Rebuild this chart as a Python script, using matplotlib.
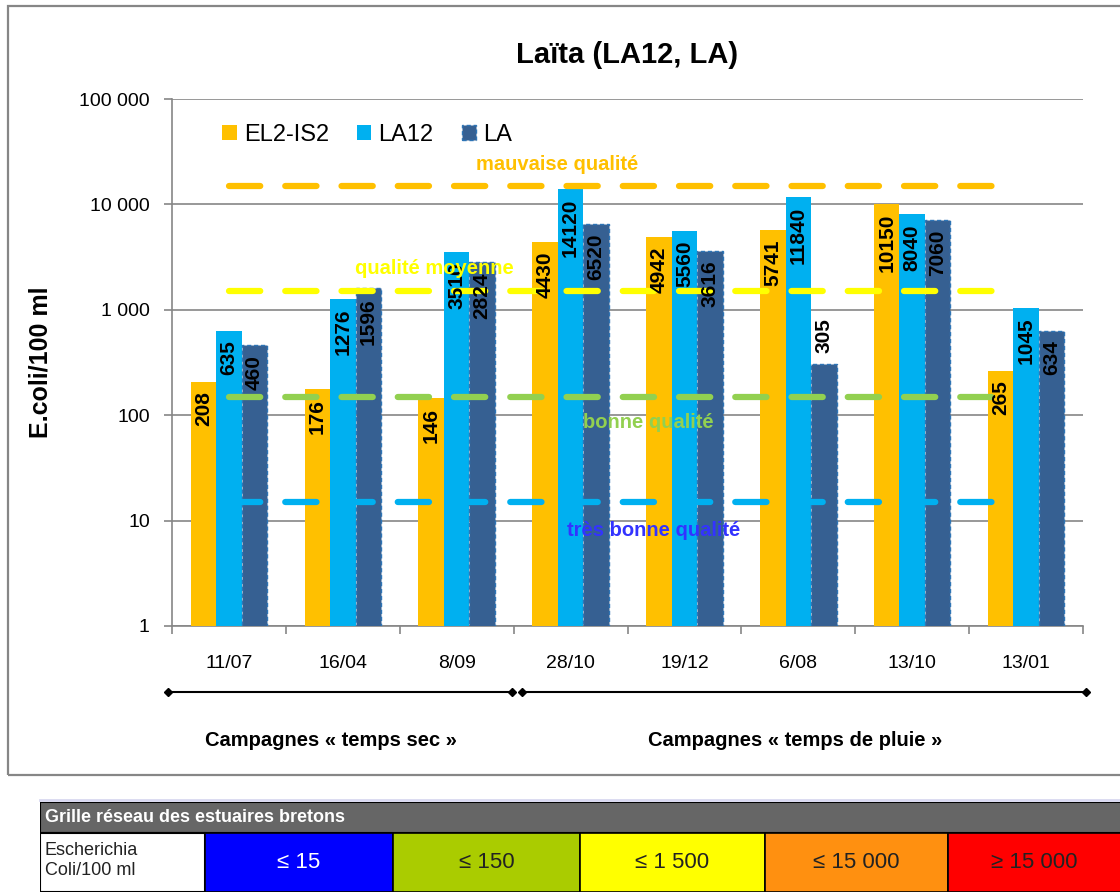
import numpy as np
import matplotlib.pyplot as plt
from matplotlib.patches import Rectangle
from matplotlib.lines import Line2D
from matplotlib.ticker import FixedLocator, FuncFormatter, NullLocator

plt.rcParams['font.family'] = ['Liberation Sans', 'DejaVu Sans']

# ---------------------------------------------------------------- data
dates = ["11/07", "16/04", "8/09", "28/10", "19/12", "6/08", "13/10", "13/01"]
el2_is2 = [208, 176, 146, 4430, 4942, 5741, 10150, 265]
la12 = [635, 1276, 3510, 14120, 5560, 11840, 8040, 1045]
la = [460, 1596, 2824, 6520, 3616, 305, 7060, 634]
series_names = ["EL2-IS2", "LA12", "LA"]

thresholds = [15000, 1500, 150, 15]
threshold_names = ["mauvaise qualité", "qualité moyenne", "bonne qualité", "très bonne qualité"]

campaigns = ["Campagnes « temps sec »", "Campagnes « temps de pluie »"]

grid_title = "Grille réseau des estuaires bretons"
grid_row_label = "Escherichia\nColi/100 ml"
grid_classes = ["≤ 15", "≤ 150", "≤ 1 500", "≤ 15 000", "≥ 15 000"]

# ---------------------------------------------------------------- style
c_el2, c_la12, c_la = "#FFC000", "#00B0F0", "#366092"
thr_colors = ["#FFC000", "#FFFF00", "#92D050", "#00B0F0"]
thr_text_colors = ["#FFC000", "#FFFF00", "#92D050", "#3333FF"]
thr_text_pos = [(2.88, 165), (1.80, 268), (3.68, 423), (3.73, 531)]  # (x data, y px)
grid_colors = ["#0000FF", "#AACC00", "#FFFF00", "#FF9010", "#FF0000"]
grid_text_colors = ["white", "#222222", "#222222", "#222222", "#222222"]

W, H = 1120, 892
fig = plt.figure(figsize=(W / 100, H / 100), dpi=100)


def fx(px):
    return px / W


def fy(py):
    return 1 - py / H


# chart area frame
fig.add_artist(Rectangle((fx(8), fy(775)), fx(1130 - 8), fy(6) - fy(775),
                         transform=fig.transFigure, fill=False,
                         edgecolor="#868686", lw=1.6))

ax = fig.add_axes([fx(172), fy(626), fx(1083 - 172), fy(99) - fy(626)])
ax.set_yscale("log")
ax.set_ylim(1, 100000)
n = len(dates)
ax.set_xlim(-0.5, n - 0.5)
x = np.arange(n)
bw = 0.224

b1 = ax.bar(x - bw, el2_is2, bw, color=c_el2, zorder=3, label=series_names[0])
b2 = ax.bar(x, la12, bw, color=c_la12, zorder=3, label=series_names[1])
b3 = ax.bar(x + bw, la, bw, color=c_la, edgecolor="#2E75B6", linestyle=(0, (3, 2)),
            lw=1.0, zorder=3, label=series_names[2])

# value labels (inside end, rotated)
for bars, vals, s in [(b1, el2_is2, 0), (b2, la12, 1), (b3, la, 2)]:
    for i, (b, v) in enumerate(zip(bars, vals)):
        cx = b.get_x() + b.get_width() / 2
        if s == 2 and i == 5:
            ax.annotate(str(v), (cx, v), xytext=(0, 8), textcoords="offset points",
                        rotation=90, ha="center", va="bottom", fontsize=15,
                        fontweight="bold", zorder=6)
        else:
            ax.annotate(str(v), (cx, v), xytext=(0, -7), textcoords="offset points",
                        rotation=90, ha="center", va="top", fontsize=15,
                        fontweight="bold", zorder=6)

# quality thresholds
for t, col in zip(thresholds, thr_colors):
    ax.plot([0, 6.83], [t, t], color=col, lw=4.5, dashes=(5, 4),
            solid_capstyle="round", dash_capstyle="round", zorder=4)

for (tx, ty), name, col in zip(thr_text_pos, threshold_names, thr_text_colors):
    yv = 10 ** (5 - (ty - 99) / ((626 - 99) / 5))
    ax.text(tx, yv, name, color=col, fontsize=14.5, fontweight="bold",
            ha="center", va="center", zorder=7)

# axes styling
ax.yaxis.set_major_locator(FixedLocator([1, 10, 100, 1000, 10000, 100000]))
ax.yaxis.set_minor_locator(NullLocator())
ax.yaxis.set_major_formatter(FuncFormatter(lambda v, p: f"{int(v):,}".replace(",", " ")))
ax.grid(axis="y", color="#868686", lw=1.2, zorder=0)
for sp in ["top", "right"]:
    ax.spines[sp].set_visible(False)
ax.spines["left"].set_color("#868686")
ax.spines["bottom"].set_color("#868686")
ax.spines["left"].set_linewidth(1.2)
ax.spines["bottom"].set_linewidth(1.2)
ax.tick_params(axis="y", colors="#868686", labelcolor="black", labelsize=14,
               length=6, width=1.2, pad=10)
ax.set_xticks(x)
ax.set_xticklabels(dates)
ax.tick_params(axis="x", length=0, labelsize=14, pad=21)
ax.set_xticks(np.arange(-0.5, n), minor=True)
ax.tick_params(axis="x", which="minor", length=6, width=1.2, colors="#868686")
ax.set_ylabel("E.coli/100 ml", fontsize=18, fontweight="bold", labelpad=19)

ax.set_title("Laïta (LA12, LA)", fontsize=21, fontweight="bold", pad=26)

leg = ax.legend(loc="upper left", bbox_to_anchor=(0.045, 0.97), ncol=3, frameon=False,
                fontsize=17, handlelength=0.6, handleheight=0.6, handletextpad=0.3,
                columnspacing=1.2, borderaxespad=0)

# campaign brackets
trans = ax.get_xaxis_transform()
gaps = [(-0.535, 2.49), (2.57, 7.53)]
for (x0, x1), name in zip(gaps, campaigns):
    ax.add_line(Line2D([x0, x1], [-0.125, -0.125], transform=trans, color="black",
                       lw=1.5, marker="D", markersize=4.5, clip_on=False))
    ax.text((x0 + x1) / 2 - 0.08, -0.218, name, transform=trans, ha="center",
            va="center", fontsize=14.5, fontweight="bold")

# classification grid table
tab = fig.add_axes([fx(40), 0, fx(1130 - 40), fy(802)])
tab.set_xlim(40, 1130)
tab.set_ylim(897, 802)
tab.axis("off")
fig.add_artist(Line2D([fx(40), fx(1130)], [fy(800), fy(800)], color="#D8D8F0", lw=2))
tab.add_patch(Rectangle((40, 802), 1090, 33, facecolor="#666666", edgecolor="black", lw=1.5))
tab.text(45, 818.5, grid_title, color="white", fontsize=13, fontweight="bold", va="center")
edges = [40, 205, 393, 580, 765, 948, 1130]
tab.add_patch(Rectangle((40, 835), edges[1] - 40, 62, facecolor="white", edgecolor="black", lw=1.5))
tab.text(45, 864, grid_row_label, fontsize=13, va="center", color="#222222",
         linespacing=1.25)
for i, (lab, col, tc) in enumerate(zip(grid_classes, grid_colors, grid_text_colors)):
    x0, x1 = edges[i + 1], edges[i + 2]
    tab.add_patch(Rectangle((x0, 835), x1 - x0, 62, facecolor=col, edgecolor="black", lw=1.2))
    tab.text((x0 + min(x1, 1120)) / 2, 866, lab, fontsize=16, ha="center", va="center", color=tc)

fig.savefig("out.png", dpi=100)
